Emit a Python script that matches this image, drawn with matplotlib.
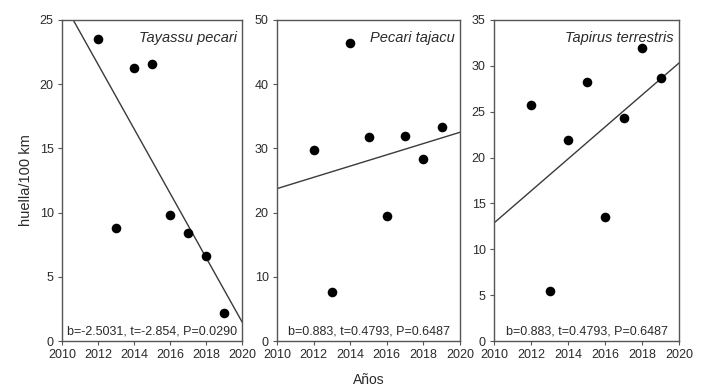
import numpy as np
import matplotlib
matplotlib.use("Agg")
import matplotlib.pyplot as plt

plt.rcParams['font.family'] = ['Liberation Sans', 'DejaVu Sans']

years = [2012, 2013, 2014, 2015, 2016, 2017, 2018, 2019]
tayassu = [23.5, 8.8, 21.3, 21.6, 9.8, 8.4, 6.6, 2.2]
pecari = [29.7, 7.6, 46.4, 31.7, 19.4, 32.0, 28.4, 33.3]
tapirus = [25.7, 5.4, 21.9, 28.2, 13.5, 24.3, 32.0, 28.7]

species = ["Tayassu pecari", "Pecari tajacu", "Tapirus terrestris"]
stats = ["b=-2.5031, t=-2.854, P=0.0290",
         "b=0.883, t=0.4793, P=0.6487",
         "b=0.883, t=0.4793, P=0.6487"]
ymax = [25, 50, 35]
ystep = [5, 10, 5]
xticks = [2010, 2012, 2014, 2016, 2018, 2020]

W, H = 705, 389
fig = plt.figure(figsize=(W / 100, H / 100), dpi=100)

panels_px = [(62, 242), (277, 460), (494, 679)]
top_px, bot_px = 20, 341

spine_col = "#555555"
txt_col = "#2a2a2a"

for i, (data, (l, r)) in enumerate(zip([tayassu, pecari, tapirus], panels_px)):
    ax = fig.add_axes([l / W, (H - bot_px) / H, (r - l) / W, (bot_px - top_px) / H])
    ax.scatter(years, data, s=48, color="black", zorder=3, linewidths=0)
    b, a = np.polyfit(years, data, 1)
    xx = np.array([2010, 2020])
    ax.plot(xx, a + b * xx, color="#3a3a3a", lw=1.0, zorder=2)
    ax.set_xlim(2010, 2020)
    ax.set_ylim(0, ymax[i])
    ax.set_xticks(xticks)
    ax.set_yticks(np.arange(0, ymax[i] + 0.1, ystep[i]))
    ax.tick_params(direction="out", length=3, width=0.8, colors=spine_col,
                   labelcolor=txt_col, labelsize=9, pad=3)
    for s in ax.spines.values():
        s.set_color(spine_col)
        s.set_linewidth(1.0)
    ax.text(0.97, 0.965, species[i], transform=ax.transAxes, ha="right", va="top",
            fontsize=10.5, style="italic", color=txt_col)
    ax.text(0.5, 0.012, stats[i], transform=ax.transAxes, ha="center", va="bottom",
            fontsize=9, color=txt_col)
    if i == 0:
        ax.set_ylabel("huella/100 km", fontsize=10.5, color=txt_col, labelpad=5)

fig.text(368.5 / W, 2 / H, "Años", ha="center", va="bottom", fontsize=10, color=txt_col)

fig.savefig("out.png", dpi=100)
